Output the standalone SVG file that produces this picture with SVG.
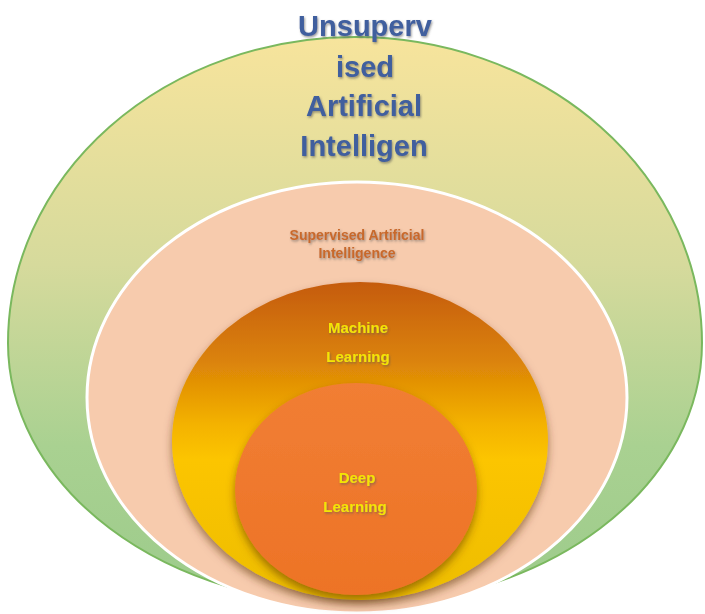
<svg xmlns="http://www.w3.org/2000/svg" width="705" height="614" viewBox="0 0 705 614">
<defs>
<linearGradient id="gGreen" x1="0" y1="0" x2="0" y2="1">
<stop offset="0" stop-color="#f7e49c"/>
<stop offset="0.4" stop-color="#d6da9c"/>
<stop offset="0.72" stop-color="#a9d191"/>
<stop offset="1" stop-color="#9ccb8b"/>
</linearGradient>
<linearGradient id="gML" x1="0" y1="0" x2="0" y2="1">
<stop offset="0" stop-color="#c55b0c"/>
<stop offset="0.25" stop-color="#db8308"/>
<stop offset="0.45" stop-color="#f4b300"/>
<stop offset="0.56" stop-color="#fcc500"/>
<stop offset="1" stop-color="#edbd00"/>
</linearGradient>
<linearGradient id="gDL" x1="0" y1="0" x2="0" y2="1">
<stop offset="0" stop-color="#f17e34"/>
<stop offset="1" stop-color="#ed7326"/>
</linearGradient>
<filter id="shadow" x="-20%" y="-20%" width="140%" height="150%">
<feDropShadow dx="0" dy="5" stdDeviation="4" flood-color="#5a3000" flood-opacity="0.55"/>
</filter>
<filter id="tshadow" x="-10%" y="-30%" width="120%" height="160%">
<feDropShadow dx="1" dy="1.5" stdDeviation="1" flood-color="#555" flood-opacity="0.6"/>
</filter>
</defs>
<style>
text { text-anchor: middle; font-family: "Liberation Sans", Arial, sans-serif; font-weight: bold; }
.t1 { font-size: 29px; fill: #3f5e9e; }
.t2 { font-size: 14px; fill: #c8692c; }
.t3 { font-size: 15px; fill: #f4e600; }
</style>
<rect width="705" height="614" fill="#ffffff"/>
<g id="unsupervised-ai">
<path d="M 8,343 A 347,306 0 0 1 702,343 A 347,262 0 0 1 8,343 Z" fill="url(#gGreen)" stroke="#7ab85e" stroke-width="2"/>
</g>
<g id="supervised-ai">
<ellipse cx="357" cy="397.5" rx="270" ry="215.5" fill="#f7cbad" stroke="#ffffff" stroke-width="3"/>
</g>
<g id="machine-learning">
<ellipse cx="360" cy="441" rx="188" ry="159" fill="url(#gML)" filter="url(#shadow)"/>
</g>
<g id="deep-learning">
<ellipse cx="356" cy="489" rx="121" ry="106" fill="url(#gDL)" filter="url(#shadow)"/>
</g>
<g id="connectors"/>
<g id="labels" filter="url(#tshadow)">
<text class="t1" x="365" y="36">Unsuperv</text>
<text class="t1" x="365" y="77">ised</text>
<text class="t1" x="364" y="116">Artificial</text>
<text class="t1" x="364" y="156">Intelligen</text>
<text class="t2" x="357" y="240">Supervised Artificial</text>
<text class="t2" x="357" y="258">Intelligence</text>
<text class="t3" x="358" y="333">Machine</text>
<text class="t3" x="358" y="362">Learning</text>
<text class="t3" x="357" y="483">Deep</text>
<text class="t3" x="355" y="512">Learning</text>
</g>
</svg>
